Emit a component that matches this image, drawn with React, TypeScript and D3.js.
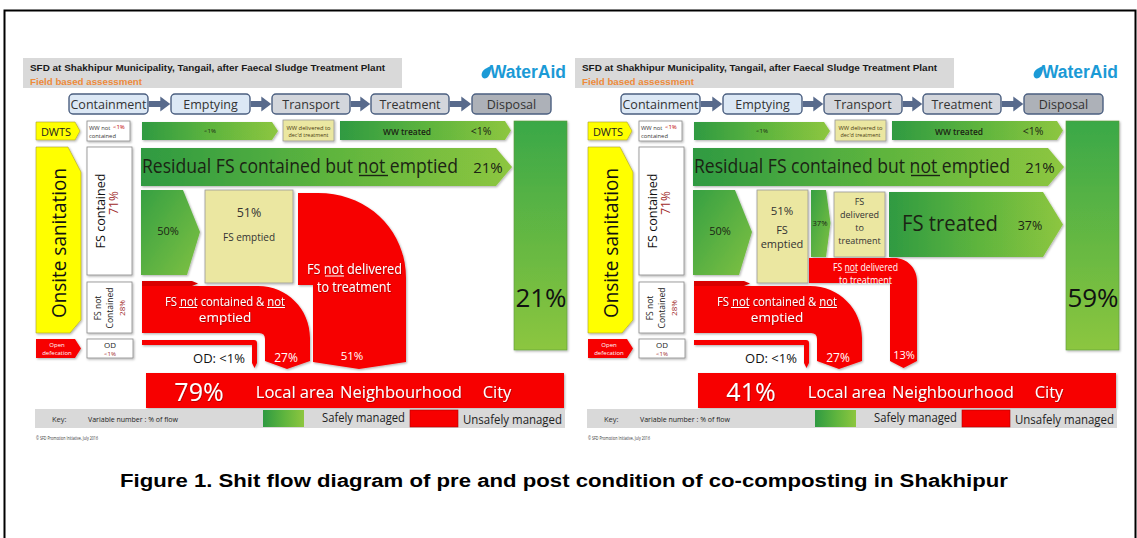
import React from "react";
import * as d3 from "d3";

const W = 1137;
const H = 538;

// ---------- data ----------
const panels = ["before", "after"];
const titleText = "SFD at Shakhipur Municipality, Tangail,  after Faecal Sludge Treatment Plant";
const subtitleText = "Field based assessment";
const stages = ["Containment", "Emptying", "Transport", "Treatment", "Disposal"];
const disposalShare = ["21%", "59%"];
const localAreaShare = ["79%", "41%"];
const notDeliveredShare = ["51%", "13%"];
const fsEmptiedShare = ["51%", "51%"];
const fsTreatedShare = ["", "37%"];
const fsContainedShare = ["71%", "71%"];
const fsNotContainedShare = ["28%", "28%"];
const residualShare = ["21%", "21%"];
const notContainedNotEmptiedShare = ["27%", "27%"];
const wwShare = ["<1%", "<1%"];
const odShare = ["<1%", "<1%"];
const containedEmptiedShare = ["50%", "50%"];
const destinations = ["Local area", "Neighbourhood", "City"];
const residualLabel = "Residual FS contained but not emptied";
const notDeliveredLabel = "FS not delivered";
const notContainedLabel = "FS not contained & not";
const caption = "Figure 1. Shit flow diagram of pre and post condition of co-composting in Shakhipur";

// ---------- styles / layout ----------
const SANS = "'Open Sans', 'Noto Sans', sans-serif";
const ARIAL = "'Liberation Sans', Arial, sans-serif";
const RED = "#f70000";
const YEL = "#ffff00";
const PALE = "#ebe7a1";
const DARK = "#1b2414";
const stageX = [69, 171, 272, 371, 472];
const stageW = [79, 79, 78, 78, 79];
const stageFill = ["#dce8f5", "#dce8f5", "#d3d6dc", "#d3d6dc", "#adb1b8"];
const destX = [295, 401, 497];

const panelX = d3.scaleLinear().domain([0, 1]).range([0, 552]);
const poly = (pts: [number, number][]) => (d3.line()(pts) ?? "") + "Z";

function pathNotDeliveredBig() {
  const p = d3.path();
  p.moveTo(298, 193);
  p.lineTo(318, 193);
  p.bezierCurveTo(368, 193, 406, 230, 406, 278);
  p.lineTo(406, 362);
  p.lineTo(359, 369);
  p.lineTo(313, 362);
  p.lineTo(313, 285);
  p.lineTo(298, 285);
  p.closePath();
  return p.toString();
}
function pathNotDeliveredSmall() {
  const p = d3.path();
  p.moveTo(257, 258);
  p.lineTo(342, 258);
  p.bezierCurveTo(355, 258, 365, 268, 365, 281);
  p.lineTo(365, 361);
  p.lineTo(351.5, 368);
  p.lineTo(338, 361);
  p.lineTo(338, 283);
  p.lineTo(257, 283);
  p.closePath();
  return p.toString();
}
function pathNotContained() {
  const p = d3.path();
  p.moveTo(142, 286);
  p.lineTo(258, 286);
  p.bezierCurveTo(287, 286, 310, 309, 310, 338);
  p.lineTo(310, 361);
  p.lineTo(287, 369);
  p.lineTo(265, 361);
  p.lineTo(265, 339);
  p.quadraticCurveTo(265, 333, 259, 333);
  p.lineTo(142, 333);
  p.closePath();
  return p.toString();
}
function pathOD() {
  const p = d3.path();
  p.moveTo(142, 340);
  p.lineTo(254, 340);
  p.quadraticCurveTo(257, 340, 257, 343);
  p.lineTo(257, 363);
  p.lineTo(254.5, 368);
  p.lineTo(252, 363);
  p.lineTo(252, 345);
  p.lineTo(142, 345);
  p.closePath();
  return p.toString();
}

function T(props: any) {
  const { x, y, s = 10, fill = "#222", anchor = "middle", len, weight, family = SANS, rot, children, base = "central", sh } = props;
  return (
    <text
      x={x}
      y={y}
      fontSize={s}
      fill={fill}
      textAnchor={anchor}
      dominantBaseline={base}
      fontFamily={family}
      fontWeight={weight}
      textLength={len}
      lengthAdjust={len ? "spacingAndGlyphs" : undefined}
      transform={rot ? `rotate(-90 ${x} ${y})` : undefined}
      filter={sh ? "url(#tsh)" : undefined}
    >
      {children}
    </text>
  );
}

// underline segment
const UL = ({ x0, x1, y, c, w = 1 }: any) => <line x1={x0} x2={x1} y1={y} y2={y} stroke={c} strokeWidth={w} />;

function Panel({ i }: { i: number }) {
  const after = i === 1;
  return (
    <g transform={`translate(${panelX(i)},0)`}>
      {/* header */}
      <rect x={23} y={58} width={379} height={30} fill="#d9d9d9" />
      <T x={30} y={71} s={8.8} anchor="start" base="auto" family={ARIAL} weight="bold" fill="#1a1a1a" len={355}>{titleText}</T>
      <T x={30} y={85} s={9} anchor="start" base="auto" family={ARIAL} weight="bold" fill="#ee8a3a" len={112}>{subtitleText}</T>
      <path d="M483,78 C480.5,75.5 481.5,71.5 485,69 L491.5,65.5 C491,70 490.5,74 488,77 C486.8,78.4 484.6,78.9 483,78 Z" fill="#1b9ad6" />
      <T x={490} y={78} s={17.5} anchor="start" base="auto" family={ARIAL} weight="bold" fill="#1b9ad6" len={76}>WaterAid</T>

      {/* stages */}
      {stages.map((st, k) => (
        <g key={st}>
          <rect x={stageX[k]} y={94} width={stageW[k]} height={20} rx={4} fill={stageFill[k]} stroke="#4b5f80" strokeWidth={1.4} />
          <T x={stageX[k] + stageW[k] / 2} y={104.5} s={12.5} fill="#333">{st}</T>
        </g>
      ))}
      {stages.slice(1).map((st, k) => {
        const x0 = stageX[k] + stageW[k] + 0.7;
        const x1 = stageX[k + 1] - 0.7;
        return (
          <g key={"a" + st} fill="#586a8c">
            <rect x={x0} y={101} width={x1 - x0 - 8} height={6} />
            <path d={poly([[x1 - 10, 96.5], [x1, 104], [x1 - 10, 111.5]])} />
          </g>
        );
      })}

      {/* first row: wastewater */}
      <g filter="url(#sh)">
        <path d={poly([[36, 122], [75, 122], [80, 131], [75, 140], [36, 140]])} fill={YEL} stroke="#a8a030" strokeWidth={0.6} />
        <rect x={87} y={121} width={43} height={20} fill="#fff" stroke="#888" strokeWidth={0.8} />
        <path d={poly([[142, 122], [272, 122], [278, 131], [272, 140], [142, 140]])} fill="url(#gH)" />
        <rect x={283} y={120} width={51} height={21} fill={PALE} stroke="#999" strokeWidth={0.8} />
        <path d={poly([[340, 121], [505, 121], [511, 130.5], [505, 140], [340, 140]])} fill="url(#gH)" />
        <rect x={514} y={121} width={53} height={229} fill="url(#gV)" stroke="#5f9a3c" strokeWidth={0.6} />
      </g>
      <T x={56} y={131} s={11} fill="#222">DWTS</T>
      <T x={89} y={127.5} s={5.8} anchor="start" fill="#333">WW not</T>
      <T x={113} y={127} s={6} anchor="start" fill="#c00000">{wwShare[i]}</T>
      <T x={89} y={135.5} s={5.8} anchor="start" fill="#333">contained</T>
      <T x={210} y={131} s={6} fill={DARK}>{wwShare[i]}</T>
      <T x={308.5} y={127.5} s={5.2} fill="#4a3a10" len={44}>WW delivered to</T>
      <T x={308.5} y={134.5} s={5.2} fill="#4a3a10" len={40}>dec'd treatment</T>
      <T x={407} y={131} s={8} fill={DARK} weight="600" len={48}>WW treated</T>
      <T x={481} y={131} s={10.5} fill={DARK}>{wwShare[i]}</T>

      {/* containment column */}
      <g filter="url(#sh)">
        <path d={poly([[36, 147], [68, 147], [81, 172], [81, 320], [70, 333], [36, 333]])} fill={YEL} stroke="#a8a030" strokeWidth={0.6} />
        <rect x={87} y={147} width={45} height={128} fill="#fff" stroke="#888" strokeWidth={0.8} />
        <rect x={87} y={282} width={45} height={51} fill="#fff" stroke="#888" strokeWidth={0.8} />
        <path d={poly([[36, 339], [75, 339], [81, 348.5], [75, 358], [36, 358]])} fill={RED} />
        <rect x={87} y={339} width={46} height={19} fill="#fff" stroke="#888" strokeWidth={0.8} />
      </g>
      <T x={58} y={243} s={20.5} fill="#111" rot len={150}>Onsite sanitation</T>
      <T x={99.5} y={211} s={13.5} fill="#111" rot len={75}>FS contained</T>
      <T x={113.5} y={203} s={12} fill="#a0282a" rot>{fsContainedShare[i]}</T>
      <T x={97.5} y={308} s={8.5} fill="#222" rot>FS not</T>
      <T x={109.5} y={308} s={8.5} fill="#222" rot len={41}>Contained</T>
      <T x={121.5} y={308} s={8} fill="#a0282a" rot>{fsNotContainedShare[i]}</T>
      <T x={57} y={344.5} s={6} fill="#fff">Open</T>
      <T x={57} y={352.5} s={6} fill="#fff">defecation</T>
      <T x={110} y={344.5} s={8} fill="#222">OD</T>
      <T x={110} y={353.5} s={6} fill="#a0282a">{odShare[i]}</T>

      {/* residual */}
      <g filter="url(#sh)">
        <path d={poly([[141, 148], [496, 148], [512, 167], [496, 186], [141, 186]])} fill="url(#gH)" />
        <path d={poly([[141, 190], [183, 190], [200, 232], [187, 275], [141, 275]])} fill="url(#gH2)" />
      </g>
      <text
        x={0}
        y={0}
        transform="translate(142 173) scale(1 1.12)"
        fontSize={17.5}
        fontFamily={SANS}
        fill={DARK}
        textLength={316}
        lengthAdjust="spacingAndGlyphs"
      >
        {residualLabel}
      </text>
      <UL x0={359} x1={388} y={175.5} c={DARK} w={1.4} />
      <T x={488} y={166.5} s={15} fill={DARK}>{residualShare[i]}</T>
      <T x={168} y={230} s={11} fill={DARK}>{containedEmptiedShare[i]}</T>

      {/* emptying / transport / treatment */}
      {!after && (
        <g>
          <g filter="url(#sh)">
            <rect x={205} y={190} width={88} height={93} fill={PALE} stroke="#999" strokeWidth={0.8} />
            <path d={pathNotDeliveredBig()} fill={RED} />
          </g>
          <T x={249} y={212} s={12.5} fill="#333">{fsEmptiedShare[i]}</T>
          <T x={249} y={237} s={10} fill="#333">FS emptied</T>
          <T x={307} y={274} s={14} anchor="start" base="auto" fill="#fff" len={95} sh>{notDeliveredLabel}</T>
          <UL x0={325} x1={344} y={276} c="#fff" w={1} />
          <T x={354} y={286} s={14} fill="#fff" len={74} sh>to treatment</T>
          <T x={352} y={355} s={11.5} fill="#fff">{notDeliveredShare[i]}</T>
        </g>
      )}
      {after && (
        <g>
          <g filter="url(#sh)">
            <rect x={205} y={190} width={51} height={93} fill={PALE} stroke="#999" strokeWidth={0.8} />
            <path d={poly([[259, 190], [274, 190], [278.5, 223], [274, 257], [259, 257]])} fill="url(#gH2)" />
            <rect x={282} y={192} width={51} height={65} fill={PALE} stroke="#999" strokeWidth={0.8} />
            <path d={poly([[337, 192], [491, 192], [511, 224.5], [491, 257], [337, 257]])} fill="url(#gH)" />
            <path d={pathNotDeliveredSmall()} fill={RED} />
          </g>
          <T x={230} y={210} s={11.5} fill="#333">{fsEmptiedShare[i]}</T>
          <T x={230} y={229} s={11} fill="#333">FS</T>
          <T x={230} y={243} s={11} fill="#333">emptied</T>
          <T x={268} y={222} s={8} fill={DARK} len={15}>{fsTreatedShare[i]}</T>
          <T x={307.5} y={201.5} s={9} fill="#333">FS</T>
          <T x={307.5} y={214} s={9} fill="#333">delivered</T>
          <T x={307.5} y={227} s={9} fill="#333">to</T>
          <T x={307.5} y={240} s={9} fill="#333">treatment</T>
          <T x={398} y={222} s={22} fill={DARK} len={96}>FS treated</T>
          <T x={478} y={225} s={12.5} fill={DARK}>{fsTreatedShare[i]}</T>
          <T x={281} y={270.5} s={10} anchor="start" base="auto" fill="#fff" len={65}>{notDeliveredLabel}</T>
          <UL x0={293} x1={305} y={272.3} c="#fff" w={0.8} />
          <T x={313.5} y={279.5} s={10} fill="#fff" len={53}>to treatment</T>
          <T x={352} y={354} s={11} fill="#fff">{notDeliveredShare[i]}</T>
        </g>
      )}

      {/* not contained & not emptied */}
      <g filter="url(#sh)">
        <path d={poly([[142, 281], [192, 281], [198, 283.5], [192, 286], [142, 286]])} fill="#d80000" />
        <path d={pathNotContained()} fill={RED} />
        <path d={pathOD()} fill={RED} />
      </g>
      <T x={165} y={305.5} s={13.5} anchor="start" base="auto" fill="#fff" len={120} sh>{notContainedLabel}</T>
      <UL x0={179} x1={197} y={307.5} c="#fff" w={1} />
      <UL x0={267} x1={285} y={307.5} c="#fff" w={1} />
      <T x={225} y={317} s={13.5} fill="#fff" sh>emptied</T>
      <T x={286} y={357} s={12} fill="#fff">{notContainedNotEmptiedShare[i]}</T>
      <T x={219} y={358} s={13} fill="#111">OD: {odShare[i]}</T>

      {/* disposal share */}
      <T x={541} y={297} s={26} fill="#111">{disposalShare[i]}</T>

      {/* bottom bar */}
      <rect x={146} y={373} width={418} height={35} fill={RED} filter="url(#sh)" />
      <T x={199} y={391} s={25} fill="#fff" sh>{localAreaShare[i]}</T>
      {destinations.map((d, k) => (
        <T key={d} x={destX[k]} y={391} s={16.5} fill="#fff" sh>{d}</T>
      ))}

      {/* key */}
      <rect x={35} y={409} width={530} height={19} fill="#d9d9d9" />
      <T x={52} y={418.5} s={7.5} anchor="start" fill="#333">Key:</T>
      <T x={88} y={418.5} s={8} anchor="start" fill="#222" len={90}>Variable number :  % of flow</T>
      <rect x={263} y={410} width={41} height={17} fill="url(#gH)" />
      <T x={322} y={417.5} s={12.5} anchor="start" fill="#222" len={83}>Safely managed</T>
      <rect x={410} y={410} width={48} height={17} fill={RED} stroke="#b00000" strokeWidth={0.6} />
      <T x={463} y={419} s={12.5} anchor="start" fill="#222" len={99}>Unsafely managed</T>
      <T x={36} y={437.5} s={4.8} anchor="start" fill="#333" len={62}>© SFD Promotion Initiative, July 2016</T>
    </g>
  );
}

export default function App() {
  return (
    <svg width={W} height={H} viewBox={`0 0 ${W} ${H}`} style={{ position: "absolute", left: 0, top: 0, background: "#fff" }}>
      <defs>
        <linearGradient id="gH" x1="0" y1="0" x2="1" y2="0">
          <stop offset="0" stopColor="#2f9a42" />
          <stop offset="0.5" stopColor="#5db43e" />
          <stop offset="1" stopColor="#8dc63f" />
        </linearGradient>
        <linearGradient id="gH2" x1="0" y1="0" x2="1" y2="1">
          <stop offset="0" stopColor="#36a043" />
          <stop offset="1" stopColor="#7fc142" />
        </linearGradient>
        <linearGradient id="gV" x1="0" y1="0" x2="0" y2="1">
          <stop offset="0" stopColor="#3aa847" />
          <stop offset="1" stopColor="#8cc63f" />
        </linearGradient>
        <filter id="sh" x="-5%" y="-5%" width="115%" height="120%">
          <feDropShadow dx="1" dy="1.2" stdDeviation="0.8" floodColor="#000" floodOpacity="0.3" />
        </filter>
        <filter id="tsh" x="-5%" y="-10%" width="115%" height="130%">
          <feDropShadow dx="0.6" dy="0.8" stdDeviation="0.5" floodColor="#600" floodOpacity="0.6" />
        </filter>
      </defs>
      <rect x={0} y={0} width={W} height={H} fill="#fff" />
      <path d="M4.5,538 L4.5,10.5 L1135.5,10.5 L1135.5,538" fill="none" stroke="#000" strokeWidth={2} />
      {panels.map((p, i) => (
        <Panel key={p} i={i} />
      ))}
      <T x={564} y={481} s={18} family={ARIAL} weight="bold" fill="#000" len={888}>{caption}</T>
    </svg>
  );
}
